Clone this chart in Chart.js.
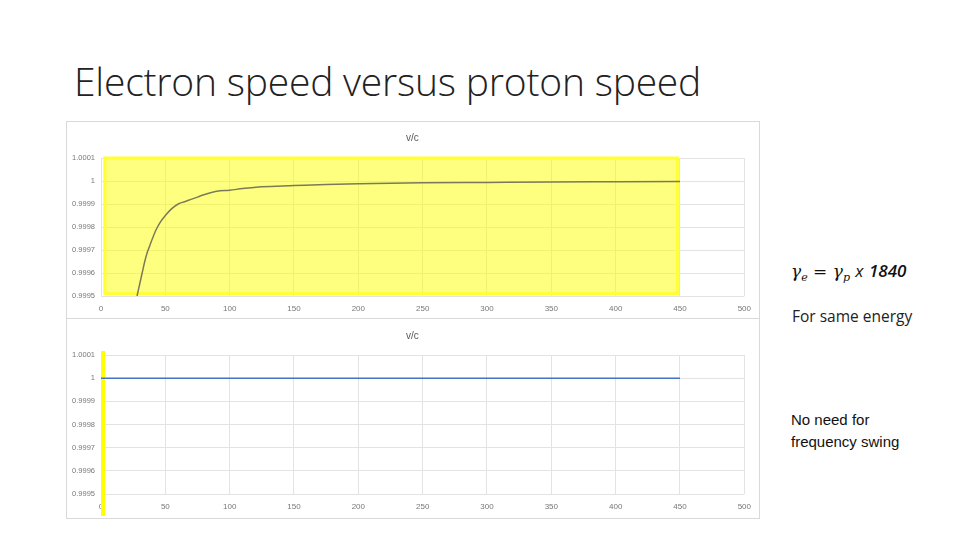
<!DOCTYPE html><html><head><meta charset="utf-8">
<script src="https://cdn.jsdelivr.net/npm/chart.js@4"></script>
<style>
body{margin:0;width:960px;height:540px;background:#fff;position:relative;overflow:hidden;font-family:"Open Sans",sans-serif}
.box{position:absolute;left:66px;width:692px;border:1px solid #d9d9d9;background:#fff}
.t{position:absolute;font-size:10px;color:#595959;font-family:"Liberation Sans",sans-serif}
</style></head><body>
<div style="position:absolute;left:74px;top:54px;font-size:39px;font-weight:300;color:#222;font-family:'Open Sans',sans-serif;letter-spacing:-0.2px">Electron speed versus proton speed</div>
<div class="box" style="top:121px;height:196px"><canvas id="c1"></canvas></div>
<div class="box" style="top:318px;height:199px"><canvas id="c2"></canvas></div>
<div class="t" style="left:406px;top:132px">v/c</div>
<div class="t" style="left:406px;top:330px">v/c</div>
<div style="position:absolute;left:791px;top:259px;font-size:17px;font-style:italic;font-family:'DejaVu Serif',serif;color:#111">γ<sub style="font-size:11px">e</sub> = γ<sub style="font-size:11px">p</sub> <span style="font-family:'Open Sans'">x</span> <span style="font-family:'Open Sans';font-weight:600">1840</span></div>
<div style="position:absolute;left:792px;top:305px;font-size:15.5px;color:#222">For same energy</div>
<div style="position:absolute;left:791px;top:409px;font-size:15px;line-height:22px;color:#111;font-family:'Liberation Sans',sans-serif">No need for<br>frequency swing</div>
<script>
const xTop=[28,30,32,34,36,38,40,43,46,50,55,60,65,70,75,80,90,100,110,125,150,175,200,250,300,350,400,450];
const yTop=[0.99950,0.99955,0.99960,0.99965,0.99969,0.99972,0.99975,0.99979,0.99982,0.99985,0.99988,0.99990,0.99991,0.99992,0.99993,0.99994,0.999955,0.99996,0.999967,0.999975,0.99998,0.999985,0.999988,0.999992,0.999994,0.999996,0.999997,0.999998];
const xBot=[0,50,100,150,200,250,300,350,400,450];
const yBot=[1,1,1,1,1,1,1,1,1,1];
const yTickLabels={"1.0001":"1.0001","1":"1","0.9999":"0.9999","0.9998":"0.9998","0.9997":"0.9997","0.9996":"0.9996","0.9995":"0.9995"};
function mk(id,xs,ys,color,hl,xh){
 const g={color:'#e3e3e3',drawTicks:false};
 new Chart(document.getElementById(id),{type:'line',
  data:{datasets:[{data:xs.map((x,i)=>({x,y:ys[i]})),borderColor:color,borderWidth:1.5,pointRadius:0,cubicInterpolationMode:'monotone'}]},
  options:{responsive:true,maintainAspectRatio:false,animation:false,layout:{padding:{top:36,right:14}},
   plugins:{legend:{display:false},tooltip:{enabled:false}},
   scales:{x:{type:'linear',min:0,max:500,ticks:{stepSize:50,color:'#777',font:{size:8},padding:8},grid:g,border:{display:false},afterFit:s=>{s.height=xh}},
    y:{min:0.9995,max:1.0001,ticks:{stepSize:0.0001,color:'#777',font:{size:7.5},padding:6,callback:v=>{const k=String(+v.toFixed(4));return yTickLabels[k]??k}},grid:g,border:{display:false},afterFit:s=>{s.width=34}}}},
  plugins:[{id:'hl',beforeDatasetsDraw(c){const x=c.scales.x,y=c.scales.y,ctx=c.ctx;ctx.save();hl(ctx,x,y);ctx.restore();}}]});
}
mk('c1',xTop,yTop,'#7a7a5a',(ctx,x,y)=>{const l=x.getPixelForValue(3),r=x.getPixelForValue(448),t=y.getPixelForValue(1.0001),b=y.getPixelForValue(0.99951);
 ctx.fillStyle='rgba(255,255,0,0.5)';ctx.fillRect(l,t,r-l,b-t);ctx.strokeStyle='#ffff33';ctx.lineWidth=3;ctx.strokeRect(l,t,r-l,b-t);},22);
mk('c2',xBot,yBot,'#4472c4',(ctx,x,y)=>{const l=x.getPixelForValue(0),t=y.getPixelForValue(1.0001)-4,b=y.getPixelForValue(0.9995)+22;
 ctx.fillStyle='#ffff00';ctx.fillRect(l,t,4,b-t);},24);
</script></body></html>
